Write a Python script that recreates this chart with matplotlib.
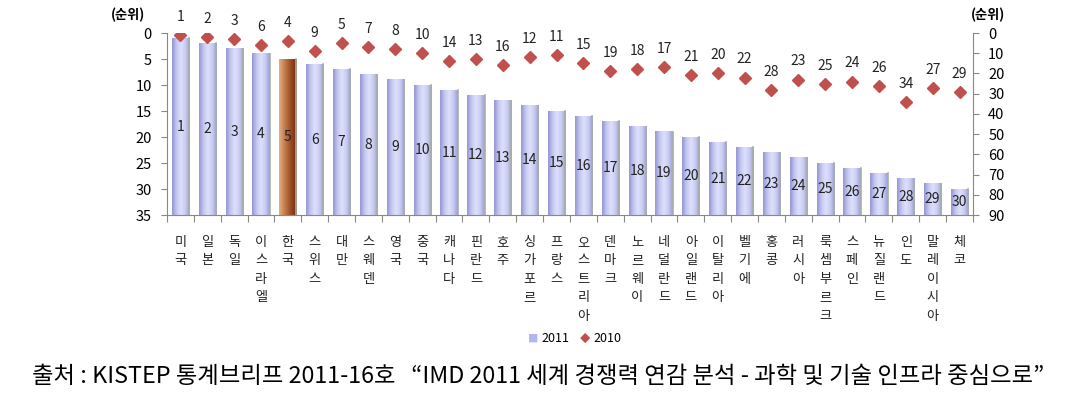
import matplotlib.pyplot as plt
import numpy as np
from matplotlib.colors import LinearSegmentedColormap

plt.rcParams['font.family'] = ['Noto Sans CJK KR', 'DejaVu Sans']

countries = ["미국", "일본", "독일", "이스라엘", "한국", "스위스", "대만", "스웨덴", "영국", "중국",
             "캐나다", "핀란드", "호주", "싱가포르", "프랑스", "오스트리아", "덴마크", "노르웨이",
             "네덜란드", "아일랜드", "이탈리아", "벨기에", "홍콩", "러시아", "룩셈부르크", "스페인",
             "뉴질랜드", "인도", "말레이시아", "체코"]
rank_2011 = list(range(1, 31))
rank_2010 = [1, 2, 3, 6, 4, 9, 5, 7, 8, 10, 14, 13, 16, 12, 11, 15, 19, 18, 17, 21,
             20, 22, 28, 23, 25, 24, 26, 34, 27, 29]
highlight = "한국"

left_max = 35
right_max = 90

blue_cmap = LinearSegmentedColormap.from_list(
    "bluebar", ["#9396d2", "#c3c7ef", "#dde1fb", "#c9ccf2", "#9a9dd6"])
brown_cmap = LinearSegmentedColormap.from_list(
    "brownbar", ["#e4b088", "#c27a4a", "#9a4a22", "#6e2c10"])

fig = plt.figure(figsize=(10.77, 4.18), dpi=100)
ax = fig.add_axes([0.155, 0.4856, 0.7484, 0.4354])
ax2 = ax.twinx()

x = np.arange(len(countries))
w = 0.64
grad = np.linspace(0, 1, 64).reshape(1, -1)

# bars grow from the bottom (35) up to the rank on an inverted axis
ax.bar(x, [left_max - r for r in rank_2011], bottom=rank_2011, width=w,
       color="none", edgecolor="none", zorder=2)
for xi, r, name in zip(x, rank_2011, countries):
    cmap = brown_cmap if name == highlight else blue_cmap
    ax.imshow(grad, cmap=cmap, aspect="auto", extent=[xi - w / 2, xi + w / 2, left_max, r],
              zorder=2, interpolation="bicubic")
    ax.plot([xi + w / 2, xi + w / 2], [left_max, r], color="#a8b0a8", lw=1.2, zorder=2)
    ax.text(xi, (r + left_max) / 2, str(r), ha="center", va="center", fontsize=10,
            color="#222222", zorder=4)

ax.set_xlim(-0.5, len(countries) - 0.5)
ax.set_ylim(left_max, 0)
ax.set_yticks(range(0, left_max + 1, 5))
ax.set_xticks(np.arange(len(countries) + 1) - 0.5)
ax.set_xticklabels([])
ax.tick_params(axis="x", length=5, color="#888888", direction="out")
ax.tick_params(axis="y", length=4, color="#888888", labelsize=10.5, pad=7)
for s in ["top", "right"]:
    ax.spines[s].set_visible(False)
ax.spines["left"].set_color("#888888")
ax.spines["bottom"].set_color("#888888")

for xi, name in zip(x, countries):
    ax.annotate("\n".join(name), (xi, left_max), xytext=(0, -15), textcoords="offset points",
                ha="center", va="top", fontsize=9.5, linespacing=1.55, color="#222222")

ax2.plot(x, rank_2010, "D", color="#c0504d", markersize=6.5, zorder=5)
for xi, r in zip(x, rank_2010):
    ax2.annotate(str(r), (xi, r), xytext=(0, 13), textcoords="offset points",
                 ha="center", va="center", fontsize=10, color="#222222")
ax2.set_ylim(right_max, 0)
ax2.set_yticks(range(0, right_max + 1, 10))
ax2.tick_params(axis="y", length=4, color="#888888", labelsize=10.5, pad=7)
for s in ["top", "left", "bottom"]:
    ax2.spines[s].set_visible(False)
ax2.spines["right"].set_color("#888888")
ax2.set_zorder(ax.get_zorder() + 1)
ax2.patch.set_visible(False)

fig.text(0.119, 0.964, "(순위)", ha="center", va="center", fontsize=9.5, fontweight="bold")
fig.text(0.917, 0.964, "(순위)", ha="center", va="center", fontsize=9.5, fontweight="bold")

# legend
fig.text(0.495, 0.19, "■", color="#b3b8ec", ha="center", va="center", fontsize=7.5)
fig.text(0.503, 0.19, "2011", ha="left", va="center", fontsize=9)
fig.text(0.543, 0.19, "◆", color="#c0504d", ha="center", va="center", fontsize=7.5)
fig.text(0.551, 0.19, "2010", ha="left", va="center", fontsize=9)

fig.text(0.5, 0.1, "출처 : KISTEP 통계브리프 2011-16호   “IMD 2011 세계 경쟁력 연감 분석 - 과학 및 기술 인프라 중심으로”",
         ha="center", va="center", fontsize=16.8)

fig.savefig("out.png", dpi=100)
